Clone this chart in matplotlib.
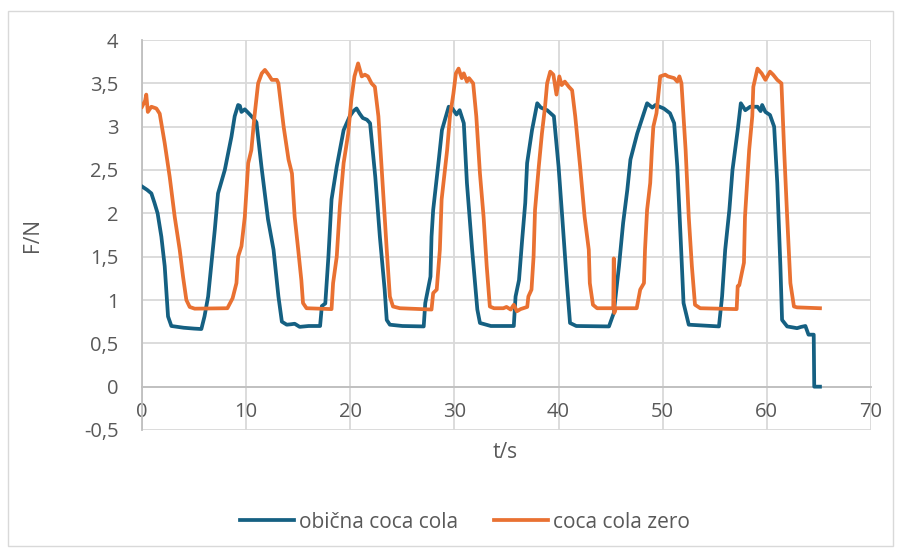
import matplotlib
matplotlib.use("Agg")
import matplotlib.pyplot as plt
from matplotlib.ticker import FuncFormatter
from matplotlib.patches import Rectangle

# obična coca cola (t in s, F in N)
t_obicna = [0, 0.5, 0.9, 1.2, 1.5, 1.86, 2.18, 2.5, 2.82, 4.0, 5.0, 5.7, 6.0, 6.35, 6.67,
            6.99, 7.3, 7.95, 8.59, 8.9, 9.23, 9.4, 9.55, 9.87, 10.2, 10.67, 10.99, 11.47,
            12.1, 12.63, 13.1, 13.43, 13.9, 14.3, 14.66, 15.14, 16.0, 17.1, 17.27, 17.6,
            17.9, 18.2, 18.7, 19.36, 19.95, 20.3, 20.6, 20.9, 21.2, 21.6, 21.9, 22.4,
            22.84, 23.3, 23.5, 23.8, 25.0, 27.05, 27.2, 27.7, 27.8, 27.96, 28.5, 28.8,
            29.45, 29.8, 30.2, 30.5, 30.9, 31.2, 31.7, 32.2, 32.45, 33.5, 35.4, 35.7,
            35.87, 36.2, 36.5, 36.8, 36.98, 37.45, 37.95, 38.3, 38.9, 39.55, 40.0, 40.35,
            40.8, 41.1, 41.7, 44.84, 45.3, 45.8, 46.2, 46.6, 46.9, 47.55, 48.5, 49.0,
            49.3, 50.1, 50.7, 51.1, 51.4, 51.7, 52.0, 52.5, 55.4, 55.7, 56.0, 56.4, 56.7,
            57.2, 57.5, 57.93, 58.4, 59.1, 59.4, 59.55, 59.86, 60.3, 60.7, 61.0, 61.3,
            61.46, 61.95, 62.9, 63.3, 63.7, 64.0, 64.5, 64.55, 65.1]
f_obicna = [2.31, 2.27, 2.23, 2.12, 2.0, 1.73, 1.39, 0.81, 0.70, 0.68, 0.67, 0.665, 0.81, 1.04,
            1.43, 1.81, 2.23, 2.50, 2.885, 3.12, 3.25, 3.24, 3.17, 3.20, 3.16, 3.10, 3.05,
            2.54, 1.93, 1.58, 1.04, 0.75, 0.715, 0.72, 0.726, 0.69, 0.70, 0.70, 0.93, 0.96,
            1.50, 2.16, 2.54, 2.96, 3.12, 3.18, 3.21, 3.15, 3.10, 3.08, 3.04, 2.42, 1.73,
            1.12, 0.77, 0.715, 0.70, 0.695, 0.965, 1.27, 1.73, 2.04, 2.62, 2.96, 3.23,
            3.21, 3.14, 3.19, 3.04, 2.35, 1.58, 0.89, 0.735, 0.70, 0.70, 0.70, 1.04, 1.23,
            1.69, 2.12, 2.58, 2.96, 3.27, 3.22, 3.19, 3.12, 2.54, 1.96, 1.195, 0.735, 0.70,
            0.695, 0.85, 1.39, 1.89, 2.27, 2.62, 2.92, 3.27, 3.22, 3.25, 3.21, 3.155, 3.04,
            2.54, 1.77, 0.965, 0.715, 0.695, 1.04, 1.58, 2.04, 2.50, 2.96, 3.27, 3.19,
            3.23, 3.23, 3.18, 3.25, 3.17, 3.135, 3.0, 2.35, 1.39, 0.77, 0.695, 0.675,
            0.69, 0.70, 0.60, 0.60, 0.0, 0.0]

# coca cola zero
t_zero = [0, 0.3, 0.41, 0.56, 0.9, 1.38, 1.7, 2.18, 2.66, 3.14, 3.62, 3.94, 4.26, 4.58, 5.06,
          8.2, 8.7, 9.07, 9.23, 9.55, 9.87, 10.2, 10.5, 10.8, 11.15, 11.5, 11.8, 12.15,
          12.47, 12.95, 13.1, 13.6, 14.07, 14.4, 14.66, 15.0, 15.3, 15.46, 15.8, 18.2,
          18.35, 18.7, 19.0, 19.36, 19.8, 20.1, 20.4, 20.75, 21.1, 21.4, 21.7, 22.04,
          22.36, 22.7, 23.14, 23.5, 23.8, 24.1, 24.76, 27.8, 27.96, 28.3, 28.6, 28.77,
          29.3, 29.57, 29.9, 30.14, 30.4, 30.7, 30.9, 31.2, 31.4, 31.8, 32.1, 32.45,
          32.8, 33.1, 33.4, 33.8, 34.7, 35.0, 35.4, 35.7, 36.0, 36.35, 36.99, 37.1, 37.4,
          37.6, 37.74, 38.1, 38.4, 38.7, 38.9, 39.2, 39.5, 39.8, 40.07, 40.3, 40.6,
          40.99, 41.3, 41.6, 42.07, 42.5, 42.9, 43.0, 43.3, 43.7, 45.25, 45.3, 45.35,
          45.5, 47.5, 47.84, 48.2, 48.3, 48.5, 48.8, 48.96, 49.1, 49.4, 49.76, 50.24,
          50.5, 51.1, 51.4, 51.6, 51.8, 52.2, 52.5, 52.8, 53.1, 53.6, 57.1, 57.2, 57.35,
          57.8, 57.9, 58.3, 58.6, 58.7, 59.1, 59.5, 59.86, 60.3, 60.6, 61.0, 61.4,
          61.66, 61.95, 62.26, 62.6, 62.9, 65.1]
f_zero = [3.23, 3.30, 3.37, 3.17, 3.23, 3.21, 3.15, 2.81, 2.42, 1.96, 1.58, 1.27, 1.00, 0.92,
          0.90, 0.905, 1.02, 1.195, 1.50, 1.62, 1.96, 2.58, 2.73, 3.12, 3.50, 3.615, 3.655,
          3.60, 3.54, 3.54, 3.50, 3.0, 2.62, 2.46, 1.96, 1.58, 1.23, 0.965, 0.905, 0.895,
          1.195, 1.50, 2.08, 2.58, 2.92, 3.31, 3.58, 3.73, 3.58, 3.60, 3.58, 3.50, 3.46,
          3.12, 2.27, 1.58, 1.04, 0.925, 0.905, 0.89, 1.08, 1.12, 1.58, 2.16, 2.73, 3.12,
          3.38, 3.615, 3.67, 3.56, 3.615, 3.52, 3.56, 3.50, 3.12, 2.46, 1.96, 1.39, 0.925,
          0.905, 0.905, 0.92, 0.89, 0.945, 0.87, 0.895, 0.92, 1.04, 1.12, 1.50, 2.04,
          2.54, 2.92, 3.23, 3.50, 3.635, 3.60, 3.37, 3.58, 3.48, 3.52, 3.46, 3.42, 3.12,
          2.54, 1.96, 1.58, 1.195, 0.945, 0.905, 0.905, 1.48, 0.85, 0.905, 0.905, 1.12,
          1.195, 1.58, 2.04, 2.35, 2.73, 3.0, 3.155, 3.58, 3.60, 3.58, 3.56, 3.52, 3.58,
          3.50, 2.73, 1.96, 1.39, 0.945, 0.905, 0.895, 1.16, 1.17, 1.43, 1.96, 2.73,
          3.12, 3.46, 3.67, 3.615, 3.54, 3.635, 3.60, 3.54, 3.50, 2.73, 1.96, 1.195,
          0.925, 0.915, 0.905]

x_ticks = [0, 10, 20, 30, 40, 50, 60, 70]
y_ticks = [-0.5, 0, 0.5, 1, 1.5, 2, 2.5, 3, 3.5, 4]

plt.rcParams["font.family"] = ["Open Sans", "DejaVu Sans"]
text_color = "#595959"
grid_color = "#D9D9D9"

fig = plt.figure(figsize=(8.99, 5.51), dpi=100)
fig.patches.append(Rectangle((8 / 899, 1 - 546 / 551), 885 / 899, 535 / 551,
                             transform=fig.transFigure, fill=False,
                             edgecolor=grid_color, linewidth=1))

ax = fig.add_axes([142 / 899, 1 - 430 / 551, 729 / 899, 390 / 551])
ax.plot(t_obicna, f_obicna, color="#156082", linewidth=2.7, solid_joinstyle="round",
        label="obična coca cola", zorder=3)
ax.plot(t_zero, f_zero, color="#E97132", linewidth=2.7, solid_joinstyle="round",
        label="coca cola zero", zorder=3)

ax.set_xlim(0, 70)
ax.set_ylim(-0.5, 4)
ax.set_xticks(x_ticks)
ax.set_yticks(y_ticks)
ax.yaxis.set_major_formatter(FuncFormatter(lambda v, p: f"{v:g}".replace(".", ",")))
ax.grid(True, color=grid_color, linewidth=1.3, zorder=0)
ax.set_axisbelow(True)

for side in ["top", "right"]:
    ax.spines[side].set_visible(False)
ax.spines["bottom"].set_position(("data", 0))
ax.spines["bottom"].set_color("#BFBFBF")
ax.spines["left"].set_color("#BFBFBF")
ax.spines["bottom"].set_linewidth(1.3)
ax.spines["left"].set_linewidth(1.3)
ax.tick_params(axis="both", length=0, labelsize=14.5, labelcolor=text_color)
ax.tick_params(axis="y", pad=17)
ax.tick_params(axis="x", pad=11)

fig.text(505 / 899, 1 - 453 / 551, "t/s", ha="center", va="center", fontsize=15, color=text_color)
fig.text(32 / 899, 1 - 235 / 551, "F/N", ha="center", va="center", fontsize=15,
         color=text_color, rotation=90)

leg = fig.legend(loc="center", bbox_to_anchor=(465 / 899, 1 - 522 / 551), ncol=2,
                 frameon=False, fontsize=15, handlelength=2.6, handletextpad=0.25,
                 columnspacing=1.7)
for txt in leg.get_texts():
    txt.set_color(text_color)

fig.savefig("out.png", dpi=100)
